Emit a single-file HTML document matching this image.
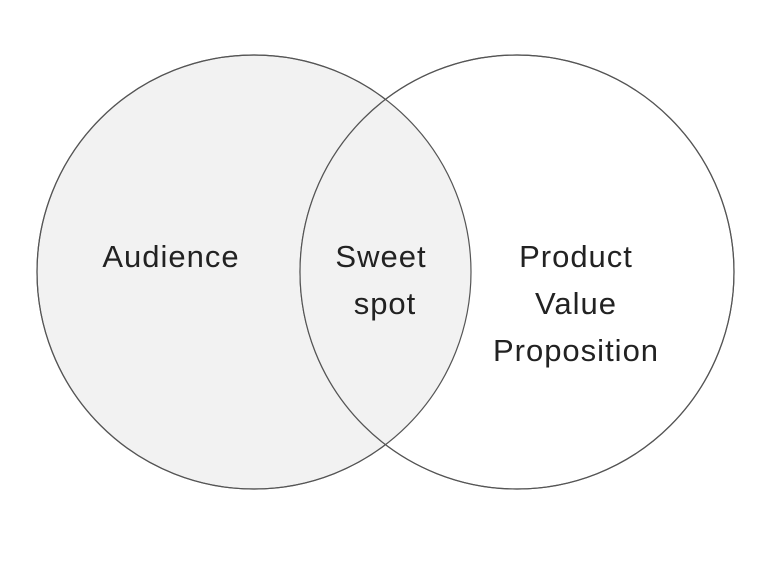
<!DOCTYPE html>
<html><head><style>html,body{margin:0;padding:0;background:#fff;}svg{display:block}</style></head>
<body>
<svg width="768" height="564" xmlns="http://www.w3.org/2000/svg">
<defs><clipPath id="c"><circle cx="254" cy="272" r="217"/></clipPath></defs>
<circle cx="254" cy="272" r="217" fill="#f2f2f2" stroke="#555" stroke-width="1.2"/>
<circle cx="517" cy="272" r="217" fill="#fff" stroke="#555" stroke-width="1.2"/>
<circle cx="517" cy="272" r="217" fill="#f2f2f2" clip-path="url(#c)"/>
<circle cx="254" cy="272" r="217" fill="none" stroke="#555" stroke-width="1.2"/>
<circle cx="517" cy="272" r="217" fill="none" stroke="#555" stroke-width="1.2"/>
<g font-family="Liberation Sans, sans-serif" font-size="31" fill="#222" text-anchor="middle" letter-spacing="1">
<text x="171" y="267">Audience</text>
<text x="381" y="267">Sweet</text>
<text x="385" y="314">spot</text>
<text x="576" y="267">Product</text>
<text x="576" y="314">Value</text>
<text x="576" y="361">Proposition</text>
</g>
</svg>
</body></html>
